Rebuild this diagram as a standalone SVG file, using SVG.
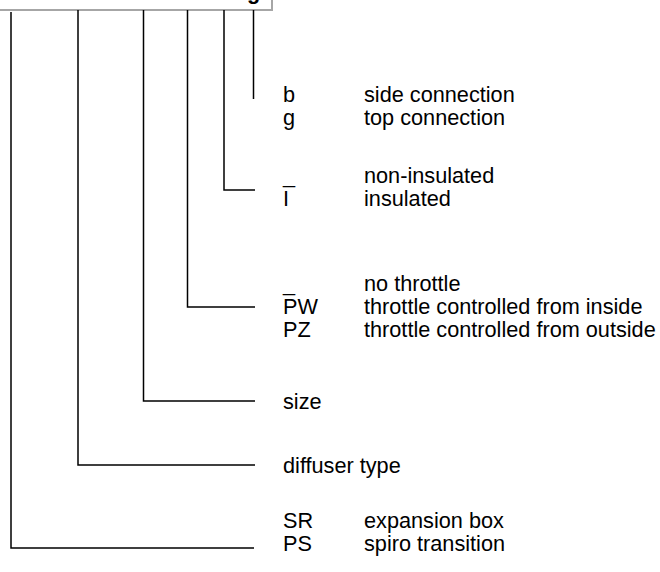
<svg xmlns="http://www.w3.org/2000/svg" width="660" height="572" viewBox="0 0 660 572">
<style>
text{font-family:"Liberation Sans",Arial,sans-serif;font-size:21.7px;fill:#000}
.c{fill:none;stroke:#000;stroke-width:1.5}
</style>
<rect width="660" height="572" fill="#fff"/>
<g id="header">
<rect x="-3" y="-20" width="275" height="30" fill="#fff" stroke="#a6a6a6" stroke-width="2"/>
<text x="247" y="-1" style="font-weight:bold">g</text>
</g>
<g id="connectors">
<polyline class="c" points="11,12 11,548 254,548"/>
<polyline class="c" points="78,10 78,465 255,465"/>
<polyline class="c" points="143.5,10 143.5,401 255,401"/>
<polyline class="c" points="187.5,10 187.5,307 255,307"/>
<polyline class="c" points="224,10 224,190 255,190"/>
<polyline class="c" points="253.5,10 253.5,99"/>
</g>
<g id="connection">
<text x="283" y="102">b</text><text x="364" y="102">side connection</text>
<text x="283" y="125">g</text><text x="364" y="125">top connection</text>
</g>
<g id="insulation">
<text x="283" y="183">_</text><text x="364" y="183">non-insulated</text>
<text x="283" y="206">I</text><text x="364" y="206">insulated</text>
</g>
<g id="throttle">
<text x="283" y="291">_</text><text x="364" y="291">no throttle</text>
<text x="283" y="314">PW</text><text x="364" y="314">throttle controlled from inside</text>
<text x="283" y="337">PZ</text><text x="364" y="337">throttle controlled from outside</text>
</g>
<g id="size"><text x="283" y="409">size</text></g>
<g id="diffuser"><text x="283" y="473">diffuser type</text></g>
<g id="type">
<text x="283" y="528">SR</text><text x="364" y="528">expansion box</text>
<text x="283" y="551">PS</text><text x="364" y="551">spiro transition</text>
</g>
</svg>
